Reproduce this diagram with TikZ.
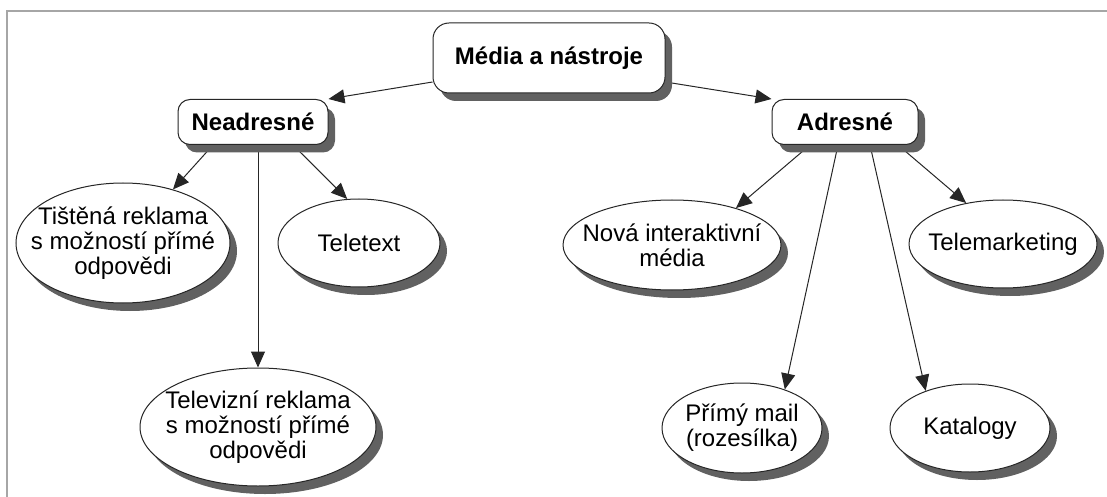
\documentclass[tikz,border=0pt]{standalone}
\usepackage{fontspec}
\setmainfont{Liberation Sans}
\usetikzlibrary{arrows.meta,shadows,shapes.geometric,backgrounds}
\begin{document}
\begin{tikzpicture}[x=0.5pt,y=-0.5pt,
    font=\fontsize{12}{12.5}\selectfont,
    shade box/.style={drop shadow={shadow xshift=3.5pt,shadow yshift=-4pt,fill=black!62,opacity=1}},
    box/.style={draw=black!85,line width=0.5pt,rounded corners=6pt,fill=white,
        font=\fontsize{12}{12.5}\selectfont\bfseries,shade box},
    oval/.style={draw=black!85,line width=0.5pt,ellipse,fill=white,align=center,
        inner xsep=-15pt,inner ysep=-10pt,shade box},
    arr/.style={-{Triangle[length=8pt,width=7pt]},draw=black!85,line width=0.5pt}]
    \useasboundingbox (0,0) rectangle (1107,497);
    \draw[gray!70,line width=1pt] (7,497) |- (1107,11);

    % root and the two groups
    \node[box,minimum width=116pt,minimum height=35pt,rounded corners=8pt] (media) at (549,58) {Média a nástroje};
    \node[box,minimum width=75pt,minimum height=22.5pt] (nead) at (253,122) {Neadresné};
    \node[box,minimum width=73pt,minimum height=22.5pt] (adr) at (845,122) {Adresné};

    % left side
    \node[oval,minimum width=107pt,minimum height=60pt] (tist) at (123,243) {Tištěná reklama\\s možností přímé\\odpovědi};
    \node[oval,minimum width=81pt,minimum height=44pt] (telx) at (359,243) {Teletext};
    \node[oval,minimum width=118pt,minimum height=59pt] (telv) at (258,427) {Televizní reklama\\s možností přímé\\odpovědi};

    % right side
    \node[oval,minimum width=109pt,minimum height=45pt] (nova) at (672,245) {Nová interaktivní\\média};
    \node[oval,minimum width=94pt,minimum height=44pt] (telm) at (1003,244) {Telemarketing};
    \node[oval,minimum width=80pt,minimum height=45pt] (mail) at (742,428) {Přímý mail\\(rozesílka)};
    \node[oval,minimum width=80pt,minimum height=44pt] (kat) at (970,428) {Katalogy};

    \begin{scope}[on background layer]
        \draw[arr] ([yshift=-12pt]media.west) -- (nead.north east);
        \draw[arr] ([yshift=-12pt]media.east) -- (adr.north west);

        \draw[arr] ([xshift=-20pt]nead.south) -- (tist.47);
        \draw[arr] ([xshift=20pt]nead.south) -- (telx.105);
        \draw[arr] (nead.south -| telv.north) -- (telv.north);

        \draw[arr] ([xshift=-17.5pt]adr.south) -- (nova.30);
        \draw[arr] ([xshift=26.5pt]adr.south) -- (telm.132);
        \draw[arr] ([xshift=-3.5pt]adr.south) -- (mail.42);
        \draw[arr] ([xshift=12.5pt]adr.south) -- (kat.140);
    \end{scope}
\end{tikzpicture}
\end{document}
